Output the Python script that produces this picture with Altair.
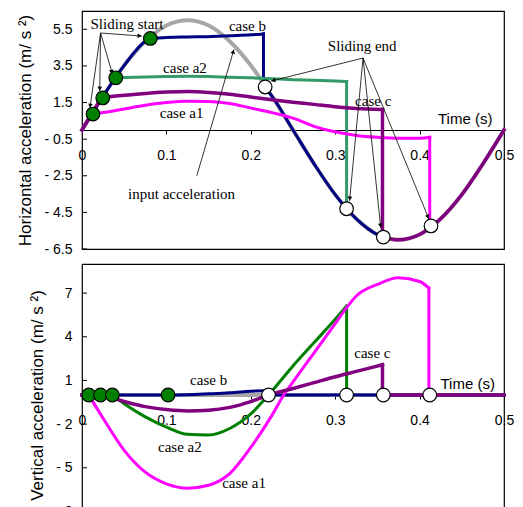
import math
import altair as alt
import pandas as pd

# ---------------- data: horizontal acceleration (top) ----------------
in_t = [0, 0.025, 0.05, 0.075, 0.1, 0.125, 0.15, 0.175, 0.2, 0.225, 0.25, 0.275,
        0.3, 0.325, 0.35, 0.375, 0.4, 0.425, 0.45, 0.475, 0.5]
in_a = [0, 1.85, 3.53, 4.85, 5.71, 6.0, 5.71, 4.85, 3.53, 1.85, 0, -1.85,
        -3.53, -4.85, -5.71, -6.0, -5.71, -4.85, -3.53, -1.85, 0]

hb_t = [0, 0.025, 0.05, 0.075, 0.081, 0.1, 0.125, 0.15, 0.175, 0.2, 0.215, 0.215,
        0.225, 0.25, 0.275, 0.3, 0.325, 0.35, 0.357]
hb_a = [0, 1.85, 3.53, 4.85, 5.0, 5.05, 5.08, 5.1, 5.15, 5.2, 5.25, 2.4,
        1.85, 0, -1.85, -3.53, -4.85, -5.71, -5.85]

ha2_t = [0.04, 0.075, 0.1, 0.125, 0.15, 0.175, 0.2, 0.225, 0.25, 0.275, 0.3, 0.3135, 0.3135]
ha2_a = [2.85, 2.9, 2.92, 2.93, 2.92, 2.88, 2.85, 2.8, 2.75, 2.72, 2.68, 2.65, -4.3]

ha1_t = [0.013, 0.025, 0.05, 0.075, 0.1, 0.125, 0.15, 0.175, 0.2, 0.225, 0.25, 0.275,
         0.3, 0.325, 0.35, 0.375, 0.4, 0.412, 0.412]
ha1_a = [0.87, 0.95, 1.15, 1.35, 1.5, 1.57, 1.55, 1.45, 1.2, 0.95, 0.65, 0.2,
         -0.1, -0.3, -0.4, -0.45, -0.45, -0.4, -5.24]

hc_t = [0, 0.0125, 0.0246, 0.05, 0.075, 0.1, 0.125, 0.15, 0.175, 0.2, 0.225, 0.25,
        0.275, 0.3, 0.325, 0.356, 0.356, 0.375, 0.4, 0.425, 0.45, 0.475, 0.5]
hc_a = [0, 0.94, 1.75, 1.9, 2.0, 2.07, 2.1, 2.05, 1.95, 1.8, 1.65, 1.52,
        1.4, 1.27, 1.18, 1.12, -5.85, -6.0, -5.71, -4.85, -3.53, -1.85, 0]

h_start_t = [0.013, 0.0246, 0.040, 0.081]
h_start_a = [0.87, 1.75, 2.85, 5.0]
h_end_t = [0.217, 0.3135, 0.357, 0.4135]
h_end_a = [2.35, -4.3, -5.85, -5.24]

h_text = ["Sliding start", "case b", "case a2", "case a1", "case c", "Sliding end", "input acceleration"]
h_text_t = [0.0533, 0.196, 0.122, 0.118, 0.345, 0.332, 0.118]
h_text_a = [5.78, 5.67, 3.38, 0.93, 1.58, 4.58, -3.5]

# arrows: (from t, from a, to t, to a)
h_arr_t1 = [0.022, 0.022, 0.022, 0.022, 0.333, 0.333, 0.333, 0.333, 0.136]
h_arr_a1 = [5.3, 5.3, 5.3, 5.3, 3.93, 3.93, 3.93, 3.93, -2.5]
h_arr_t2 = [0.0094, 0.021, 0.036, 0.071, 0.224, 0.317, 0.354, 0.411, 0.180]
h_arr_a2 = [1.2, 2.13, 3.06, 5.13, 2.67, -3.87, -5.35, -4.86, 4.4]

h_yticks = [-6.5, -4.5, -2.5, -0.5, 1.5, 3.5, 5.5]
x_ticks = [0, 0.1, 0.2, 0.3, 0.4, 0.5]

# ---------------- data: vertical acceleration (bottom) ----------------
vin_t = [0, 0.5]
vin_a = [0, 0]

vb_t = [0, 0.102, 0.125, 0.15, 0.175, 0.2, 0.215, 0.221, 0.5]
vb_a = [0, 0, 0.02, 0.08, 0.15, 0.25, 0.3, 0, 0]

va2_t = [0.036, 0.05, 0.075, 0.1, 0.125, 0.15, 0.175, 0.2, 0.221, 0.25, 0.275, 0.3, 0.3135, 0.3135]
va2_a = [0, -0.6, -1.5, -2.2, -2.7, -2.75, -2.3, -1.3, 0, 2.0, 3.6, 5.2, 6.1, 0]

va1_t = [0.008, 0.025, 0.05, 0.075, 0.1, 0.125, 0.15, 0.175, 0.2, 0.225, 0.239, 0.25,
         0.275, 0.3, 0.3135, 0.325, 0.35, 0.375, 0.4, 0.411, 0.411]
va1_a = [0, -1.6, -3.8, -5.3, -6.1, -6.4, -6.2, -5.4, -3.6, -1.4, 0, 0.9,
         2.9, 4.9, 6.0, 6.8, 7.6, 8.05, 7.8, 7.35, 0]

vc_t = [0, 0.022, 0.05, 0.075, 0.1, 0.125, 0.15, 0.175, 0.2, 0.221, 0.25, 0.275, 0.3,
        0.325, 0.356, 0.356, 0.5]
vc_a = [0, 0, -0.45, -0.8, -1.0, -1.1, -1.05, -0.85, -0.45, 0, 0.45, 0.85, 1.25,
        1.62, 2.08, 0, 0]

v_start_t = [0.008, 0.022, 0.036, 0.102]
v_start_a = [0, 0, 0, 0]
v_end_t = [0.221, 0.3135, 0.357, 0.412]
v_end_a = [0, 0, 0, 0]

v_text = ["case b", "case a2", "case a1", "case c"]
v_text_t = [0.150, 0.116, 0.192, 0.344]
v_text_a = [1.03, -3.57, -6.04, 2.88]

v_yticks = [-8, -5, -2, 1, 4, 7]

# ---------------- styling ----------------
W = 422
H_TOP = 238
H_BOT = 262
TOP_DOM = [-6.5, 6.5]
BOT_DOM = [-9, 9]
X_DOM = [0, 0.5]

GRAY = "#a6a6a6"
NAVY = "#000080"
SEA = "#339966"
GREEN = "#008000"
MAG = "#ff00ff"
PURP = "#800080"
SERIF = "Liberation Serif"
SANS = "Liberation Sans"


def df(t, a):
    return pd.DataFrame({"t": t, "a": a, "i": list(range(len(t)))})


def seg_df(t, a):
    """Split a series at vertical jumps (repeated t) into separately drawn pieces."""
    rows = []
    seg = 0
    for k in range(len(t)):
        if k > 0 and t[k] == t[k - 1]:
            seg += 1
            rows.append({"t": t[k - 1], "a": a[k - 1], "seg": seg, "i": 0})
            rows.append({"t": t[k], "a": a[k], "seg": seg, "i": 1})
            seg += 1
        rows.append({"t": t[k], "a": a[k], "seg": seg, "i": k + 10})
    return pd.DataFrame(rows)


def panel(height, ydom, yticks, title, series, starts, ends, texts, arrows, time_pos):
    xscale = alt.Scale(domain=X_DOM, nice=False, zero=False)
    yscale = alt.Scale(domain=ydom, nice=False, zero=False)
    frac = (0 - ydom[0]) / (ydom[1] - ydom[0])
    xaxis = alt.Axis(values=x_ticks, title=None, offset=-height * frac,
                     labelExpr="datum.value == 0 ? '0' : format(datum.value, '.1f')",
                     labelFlush=False, labelOverlap=False, grid=False,
                     tickSize=4, labelPadding=14, domainColor="black", tickColor="black")
    yaxis = alt.Axis(values=yticks, title=title, grid=False, ticks=False, domain=False,
                     labelPadding=10, titlePadding=9, labelOverlap=False,
                     labelExpr="datum.value < 0 ? '- ' + format(-datum.value, '') : format(datum.value, '')")

    def enc(ch, xf="t", yf="a"):
        return ch.encode(x=alt.X(f"{xf}:Q", scale=xscale, axis=xaxis),
                         y=alt.Y(f"{yf}:Q", scale=yscale, axis=yaxis))

    layers = []
    for (t, a, color, width) in series:
        layers.append(enc(alt.Chart(seg_df(t, a)).mark_line(color=color, strokeWidth=width,
                                                              interpolate="monotone",
                                                              strokeCap="square"))
                      .encode(order="i:Q", detail="seg:N"))
    # inward y ticks
    layers.append(alt.Chart(pd.DataFrame({"v": yticks})).mark_rule(color="black", strokeWidth=1)
                  .encode(y=alt.Y("v:Q", scale=yscale, axis=yaxis),
                          x=alt.value(0), x2=alt.value(5)))
    # arrows
    if arrows:
        t1, a1, t2, a2 = arrows
        sx = W / (X_DOM[1] - X_DOM[0])
        sy = height / (ydom[1] - ydom[0])
        rows = []
        for p, q, r, s in zip(t1, a1, t2, a2):
            dx = (r - p) * sx
            dy = -(s - q) * sy
            L = math.hypot(dx, dy)
            ang = math.degrees(math.atan2(dx, -dy)) % 360
            back = 3.0
            ht = r - dx / L * back / sx
            ha = s + dy / L * back / sy
            rows.append({"t": p, "a": q, "t2": r, "a2": s, "ht": ht, "ha": ha, "ang": ang})
        adf = pd.DataFrame(rows)
        layers.append(enc(alt.Chart(adf).mark_rule(color="black", strokeWidth=0.8))
                      .encode(x2="t2:Q", y2="a2:Q"))
        layers.append(enc(alt.Chart(adf).mark_point(shape="triangle", filled=True, color="black",
                                                   size=22, opacity=1), "ht", "ha")
                      .encode(angle=alt.Angle("ang:Q", scale=None)))
    # circles
    layers.append(enc(alt.Chart(df(*starts)).mark_point(shape="circle", filled=True, fill=GREEN,
                                                       stroke="black", strokeWidth=1.2, size=185,
                                                       opacity=1)))
    layers.append(enc(alt.Chart(df(*ends)).mark_point(shape="circle", filled=True, fill="white",
                                                     stroke="black", strokeWidth=1.2, size=185,
                                                     opacity=1)))
    # texts
    tx, tt, ta = texts
    tdf = pd.DataFrame({"t": tt, "a": ta, "s": tx})
    layers.append(enc(alt.Chart(tdf).mark_text(font=SERIF, fontSize=15, color="black"))
                  .encode(text="s:N"))
    layers.append(enc(alt.Chart(pd.DataFrame({"t": [time_pos[0]], "a": [time_pos[1]],
                                              "s": ["Time (s)"]}))
                      .mark_text(font=SANS, fontSize=15, color="black"))
                  .encode(text="s:N"))
    return alt.layer(*layers).properties(width=W, height=height)


top = panel(H_TOP, TOP_DOM, h_yticks, "Horizontal acceleration (m/ s ²)",
            [(in_t, in_a, GRAY, 4), (hb_t, hb_a, NAVY, 3), (ha2_t, ha2_a, SEA, 3),
             (ha1_t, ha1_a, MAG, 3), (hc_t, hc_a, PURP, 3.5)],
            (h_start_t, h_start_a), (h_end_t, h_end_a),
            (h_text, h_text_t, h_text_a),
            (h_arr_t1, h_arr_a1, h_arr_t2, h_arr_a2), (0.454, 0.6))

bot = panel(H_BOT, BOT_DOM, v_yticks, "Vertical acceleration (m/ s ²)",
            [(vin_t, vin_a, GRAY, 4), (vb_t, vb_a, NAVY, 3), (va2_t, va2_a, GREEN, 3),
             (va1_t, va1_a, MAG, 3), (vc_t, vc_a, PURP, 3.5)],
            (v_start_t, v_start_a), (v_end_t, v_end_a),
            (v_text, v_text_t, v_text_a), None, (0.457, 0.75))

chart = alt.vconcat(top, bot, spacing=6).properties(
    padding={"left": 8, "top": 2, "right": 0, "bottom": 0},
    background="white"
).configure_view(stroke="black", strokeWidth=1.2).configure_axis(
    labelFont=SANS, labelFontSize=14, labelColor="black",
    titleFont=SANS, titleFontSize=17, titleFontWeight="normal", titleColor="black"
)

chart.save("out.html", embed_options={"renderer": "svg", "actions": False})
